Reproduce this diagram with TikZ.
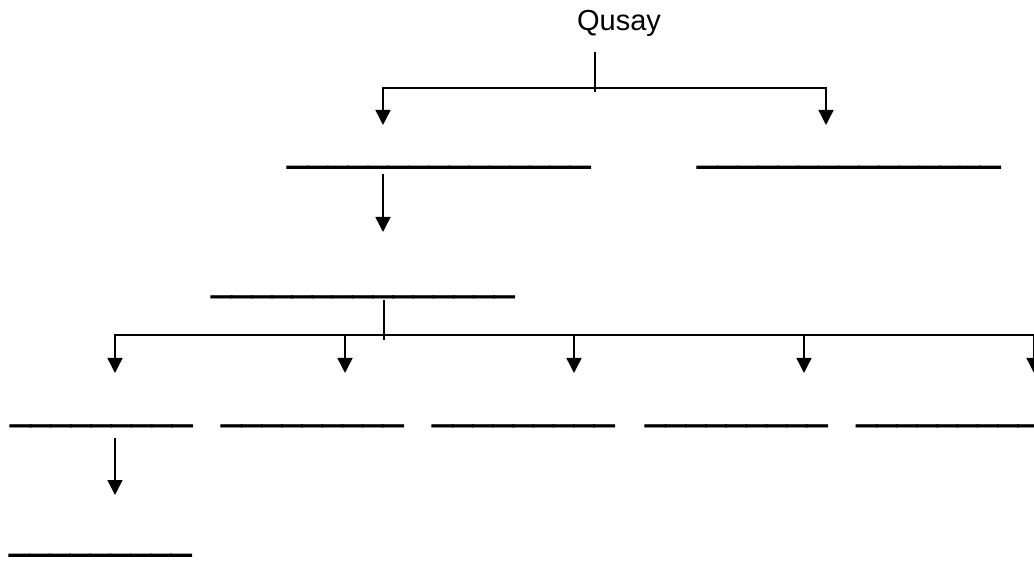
\documentclass[tikz,border=0pt]{standalone}
\usepackage{fontspec}
\setmainfont{Liberation Sans}
\newfontfamily\blankfont[FakeBold=2.5]{Liberation Sans}
\usetikzlibrary{arrows.meta}
\newcommand\usnine{\_\_\_\_\_\_\_\_\_}
\newcommand\usfifteen{\_\_\_\_\_\_\_\_\_\_\_\_\_\_\_}
\begin{document}
\begin{tikzpicture}[x=1pt,y=-1pt,
  blank/.style={anchor=base west,inner sep=0pt,outer sep=0pt,font=\blankfont\fontsize{36.3}{40}\selectfont},
  title/.style={anchor=base,inner sep=0pt,font=\fontsize{29}{34}\selectfont},
  conn/.style={line width=1.4pt},
  stub/.style={line width=2pt},
  arr/.style={line width=1.4pt,-{Triangle[width=15pt,length=15pt]}}]
\useasboundingbox (0,0) rectangle (1034,561);
% nodes
\node[title] (q) at (619,31) {Qusay};
\node[blank] (a1) at (287.5,161.1) {\usfifteen};
\node[blank] (a2) at (697.5,161.1) {\usfifteen};
\node[blank] (b1) at (211.5,290.8) {\usfifteen};
\node[blank] (c1) at (10.5,419.8) {\usnine};
\node[blank] (c2) at (221.5,419.8) {\usnine};
\node[blank] (c3) at (432.5,419.8) {\usnine};
\node[blank] (c4) at (645.5,419.8) {\usnine};
\node[blank] (c5) at (856.5,419.8) {\usnine};
\node[blank] (d1) at (9.5,549.1) {\usnine};
% junction coordinates
\coordinate (qs) at (595,52);
\coordinate (qe) at (595,92);
\coordinate (qj) at (595,88);
\coordinate (ta1) at (383,125);
\coordinate (ta2) at (826,125);
\coordinate (sa1) at (383,174);
\coordinate (tb1) at (383,232);
\coordinate (bs) at (384,300);
\coordinate (be) at (384,340);
\coordinate (bj) at (384,335);
\coordinate (bend) at (1045,335);
\coordinate (tc1) at (115,373);
\coordinate (tc2) at (345,373);
\coordinate (tc3) at (574,373);
\coordinate (tc4) at (804,373);
\coordinate (tc5) at (1034,373);
\coordinate (sc1) at (115,438);
\coordinate (td1) at (115,495);
% connectors
\draw[stub] (qs) -- (qe);
\draw[arr] (qj) -| (ta1);
\draw[arr] (qj) -| (ta2);
\draw[arr] (sa1) -- (tb1);
\draw[stub] (bs) -- (be);
\draw[arr] (bj) -| (tc1);
\draw[conn] (bj) -- (bend);
\draw[arr] (tc2 |- bj) -- (tc2);
\draw[arr] (tc3 |- bj) -- (tc3);
\draw[arr] (tc4 |- bj) -- (tc4);
\draw[arr] (tc5 |- bj) -- (tc5);
\draw[arr] (sc1) -- (td1);
\end{tikzpicture}
\end{document}
